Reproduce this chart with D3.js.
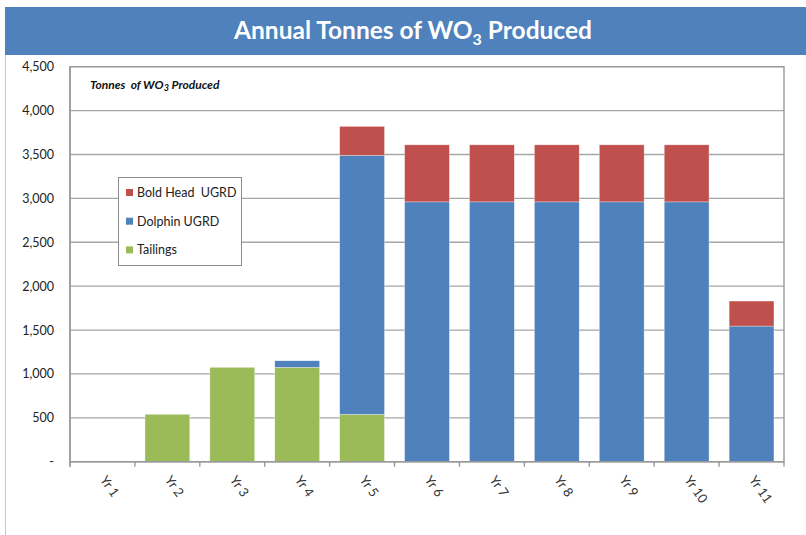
<!DOCTYPE html>
<html>
<head>
<meta charset="utf-8">
<script src="https://cdn.jsdelivr.net/npm/d3@7"></script>
<style>
  body { margin: 0; background: #fff; }
  text { font-family: Lato, "Open Sans", sans-serif; white-space: pre; }
</style>
</head>
<body>
<svg id="chart" width="806" height="535"></svg>
<script>
var width = 806;
var height = 535;

// values (tonnes WO3)
var years = ["Yr 1", "Yr 2", "Yr 3", "Yr 4", "Yr 5", "Yr 6", "Yr 7", "Yr 8", "Yr 9", "Yr 10", "Yr 11"];
var tailings = [0, 540, 1075, 1075, 540, 0, 0, 0, 0, 0, 0];
var dolphin = [0, 0, 0, 75, 2950, 2960, 2960, 2960, 2960, 2960, 1545];
var boldHead = [0, 0, 0, 0, 330, 650, 650, 650, 650, 650, 285];
var yTicks = [0, 500, 1000, 1500, 2000, 2500, 3000, 3500, 4000, 4500];
var seriesNames = ["Bold Head  UGRD", "Dolphin UGRD", "Tailings"];
var colors = {tailings: "#9BBB59", dolphin: "#4F81BD", boldHead: "#C0504D"};

var rows = years.map(function(y, i) {
  return {year: y, tailings: tailings[i], dolphin: dolphin[i], boldHead: boldHead[i]};
});

var svg = d3.select("#chart");

var plotLeft = 70, plotRight = 784, plotTop = 66.7, plotBottom = 461.7;

var x = d3.scaleBand()
  .domain(years)
  .range([plotLeft, plotRight])
  .paddingInner(0.31)
  .paddingOuter(0.155);

var y = d3.scaleLinear()
  .domain([0, 4500])
  .range([plotBottom, plotTop]);

// faint line down the left of the slide
svg.append("line")
  .attr("x1", 5.5).attr("x2", 5.5)
  .attr("y1", 55).attr("y2", height)
  .attr("stroke", "#c8c8c8").attr("stroke-width", 1);

// title band
svg.append("rect")
  .attr("x", 5).attr("y", 7)
  .attr("width", width - 5).attr("height", 48)
  .attr("fill", "#4F81BD");

var title = svg.append("text")
  .attr("x", 413).attr("y", 39)
  .attr("text-anchor", "middle")
  .attr("fill", "#fff")
  .style("font-size", "24.5px")
  .style("font-weight", "bold");
title.append("tspan").text("Annual Tonnes of WO");
title.append("tspan").attr("dy", 6).style("font-size", "16px").text("3");
title.append("tspan").attr("dy", -6).text(" Produced");

// gridlines
svg.append("g")
  .selectAll("line")
  .data(yTicks.filter(function(d) { return d > 0; }))
  .enter()
  .append("line")
  .attr("x1", plotLeft).attr("x2", plotRight)
  .attr("y1", function(d) { return y(d); })
  .attr("y2", function(d) { return y(d); })
  .attr("stroke", "#a6a6a6").attr("stroke-width", 1.3);

// plot frame
svg.append("rect")
  .attr("x", plotLeft).attr("y", plotTop)
  .attr("width", plotRight - plotLeft).attr("height", plotBottom - plotTop)
  .attr("fill", "none")
  .attr("stroke", "#999").attr("stroke-width", 1.4);

// stacked bars
var stack = d3.stack().keys(["tailings", "dolphin", "boldHead"]);
var layers = stack(rows);

svg.append("g")
  .selectAll("g")
  .data(layers)
  .enter()
  .append("g")
  .attr("fill", function(d) { return colors[d.key]; })
  .selectAll("rect")
  .data(function(d) { return d.filter(function(p) { return p[1] - p[0] > 0; }); })
  .enter()
  .append("rect")
  .attr("x", function(d) { return x(d.data.year); })
  .attr("width", x.bandwidth())
  .attr("y", function(d) { return y(d[1]); })
  .attr("height", function(d) { return y(d[0]) - y(d[1]); })
  .attr("stroke", "#fff").attr("stroke-opacity", 0.5).attr("stroke-width", 0.6);

// y axis
var yAxis = svg.append("g")
  .attr("transform", "translate(" + plotLeft + ",0)")
  .call(d3.axisLeft(y)
    .tickValues(yTicks)
    .tickSize(0)
    .tickPadding(16)
    .tickFormat(function(d) { return d === 0 ? "-" : d3.format(",")(d); }));
yAxis.select(".domain").remove();
yAxis.selectAll("text")
  .attr("fill", "#222")
  .style("font-size", "12.5px")
  .style("font-family", "Lato, sans-serif");

svg.append("line")
  .attr("x1", plotLeft).attr("x2", plotLeft)
  .attr("y1", plotTop).attr("y2", plotBottom + 5)
  .attr("stroke", "#999").attr("stroke-width", 1.4);

// x axis
var xAxis = svg.append("g")
  .attr("transform", "translate(0," + plotBottom + ")");
xAxis.append("line")
  .attr("x1", plotLeft).attr("x2", plotRight)
  .attr("stroke", "#999").attr("stroke-width", 1.4);

var tickPos = years.map(function(d) { return x(d) - x.step() * x.paddingInner() / 2; });
tickPos.push(plotRight);
xAxis.selectAll("line.tick")
  .data(tickPos)
  .enter()
  .append("line")
  .attr("class", "tick")
  .attr("x1", function(d) { return d; })
  .attr("x2", function(d) { return d; })
  .attr("y1", 0).attr("y2", 5)
  .attr("stroke", "#999").attr("stroke-width", 1.4);

xAxis.selectAll("text")
  .data(years)
  .enter()
  .append("text")
  .attr("transform", function(d) {
    return "translate(" + (x(d) + x.bandwidth() / 2 - 3) + ",18) rotate(55)";
  })
  .attr("fill", "#333")
  .style("font-size", "13px")
  .text(function(d) { return d; });

// label inside the plot
var sub = svg.append("text")
  .attr("x", 90).attr("y", 89)
  .attr("fill", "#111")
  .style("font-size", "12px")
  .style("font-weight", "bold")
  .style("font-style", "italic");
sub.append("tspan").text("Tonnes  of WO");
sub.append("tspan").attr("dy", 2).style("font-size", "9px").text("3");
sub.append("tspan").attr("dy", -2).text(" Produced");

// legend
var legend = svg.append("g");
legend.append("rect")
  .attr("x", 118.5).attr("y", 177.5)
  .attr("width", 123).attr("height", 88)
  .attr("fill", "#fff")
  .attr("stroke", "#8c8c8c").attr("stroke-width", 1);

var legendKeys = ["boldHead", "dolphin", "tailings"];
var item = legend.selectAll("g.item")
  .data(legendKeys)
  .enter()
  .append("g")
  .attr("class", "item")
  .attr("transform", function(d, i) { return "translate(126," + (193 + i * 28.7) + ")"; });

item.append("rect")
  .attr("x", 0).attr("y", -4)
  .attr("width", 7).attr("height", 7)
  .attr("fill", function(d) { return colors[d]; });

item.append("text")
  .attr("x", 11).attr("y", 4)
  .attr("fill", "#222")
  .style("font-size", "12.5px")
  .text(function(d, i) { return seriesNames[i]; });
</script>
</body>
</html>
